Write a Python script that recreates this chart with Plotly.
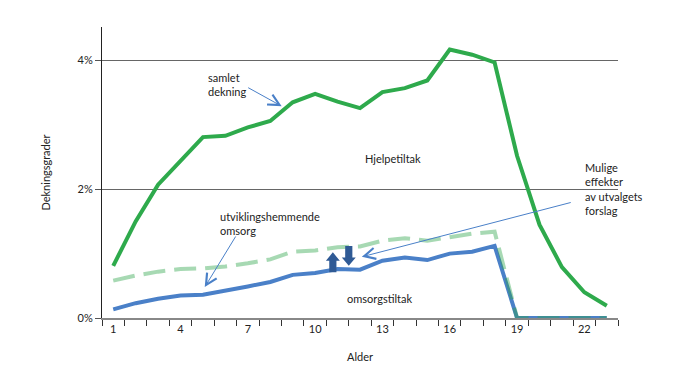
import plotly.graph_objects as go

ages = list(range(1, 24))
samlet_dekning = [0.81, 1.50, 2.07, 2.43, 2.81, 2.83, 2.96, 3.06, 3.35, 3.48, 3.36, 3.26,
                  3.51, 3.57, 3.69, 4.17, 4.09, 3.97, 2.52, 1.45, 0.79, 0.40, 0.19]
utviklingshemmende = [0.58, 0.66, 0.72, 0.76, 0.77, 0.80, 0.85, 0.91, 1.03, 1.05, 1.10, 1.11,
                      1.20, 1.24, 1.20, 1.26, 1.31, 1.34, 0, 0, 0, 0, 0]
omsorgstiltak = [0.135, 0.23, 0.30, 0.35, 0.36, 0.42, 0.49, 0.56, 0.67, 0.70, 0.76, 0.75,
                 0.89, 0.94, 0.90, 1.00, 1.03, 1.12, 0, 0, 0, 0, 0]
x_tick_vals = [1, 4, 7, 10, 13, 16, 19, 22]
y_tick_vals = [0, 2, 4]
y_tick_text = ["0%", "2%", "4%"]

FONT = "Lato"
GREEN = "#2eaa4c"
BLUE = "#4a80c8"
DASH = "rgba(46,165,75,0.42)"
DARK = "#2f5a95"

fig = go.Figure()
fig.add_trace(go.Scatter(x=ages, y=omsorgstiltak, mode="lines",
                         line=dict(color=BLUE, width=4), hoverinfo="skip"))
fig.add_trace(go.Scatter(x=ages, y=utviklingshemmende, mode="lines",
                         line=dict(color=DASH, width=4, dash="22px,9px"), hoverinfo="skip"))
fig.add_trace(go.Scatter(x=ages, y=samlet_dekning, mode="lines",
                         line=dict(color=GREEN, width=4), hoverinfo="skip"))

txt = dict(size=11, color="#222", family=FONT)
ann = []
ann.append(dict(x=5.12, y=3.63, text="samlet<br>dekning", showarrow=False, xanchor="left", align="left", font=txt))
ann.append(dict(x=13.47, y=2.47, text="Hjelpetiltak", showarrow=False, font=txt))
ann.append(dict(x=5.66, y=1.47, text="utviklingshemmende<br>omsorg", showarrow=False, xanchor="left", align="left", font=txt))
ann.append(dict(x=12.89, y=0.31, text="omsorgstiltak", showarrow=False, font=txt))
ann.append(dict(x=21.95, y=2.0, text="Mulige<br>effekter<br>av utvalgets<br>forslag", showarrow=False,
                xanchor="left", align="left", font=txt))
# thin pointer arrows (tail -> tip)
for (tx, ty, hx, hy) in [(6.95, 3.59, 8.51, 3.29), (6.50, 1.29, 5.08, 0.48), (21.46, 1.80, 12.08, 0.95)]:
    ann.append(dict(x=hx, y=hy, ax=tx, ay=ty, axref="x", ayref="y", xref="x", yref="y", text="",
                    showarrow=True, arrowhead=5, arrowsize=2.2, arrowwidth=1, arrowcolor=BLUE))

shapes = []
def block_arrow(xc, y0, y1):
    sw, hw = 0.16, 0.31
    hh = 0.13 if y1 > y0 else -0.13
    yb = y1 - hh
    p = (f"M {xc-sw},{y0} L {xc-sw},{yb} L {xc-hw},{yb} L {xc},{y1} L {xc+hw},{yb} "
         f"L {xc+sw},{yb} L {xc+sw},{y0} Z")
    return dict(type="path", path=p, xref="x", yref="y", fillcolor=DARK, line=dict(width=0))
shapes.append(block_arrow(10.79, 0.71, 1.02))
shapes.append(block_arrow(11.50, 1.12, 0.81))

fig.update_layout(
    width=700, height=373,
    margin=dict(l=94, r=90, t=19, b=63),
    plot_bgcolor="white", paper_bgcolor="white",
    showlegend=False,
    font=dict(family=FONT, size=11, color="#222"),
    annotations=ann, shapes=shapes,
    xaxis=dict(range=[0.5, 23.5], tickvals=x_tick_vals, ticks="", showgrid=False,
               showline=True, linecolor="#888", linewidth=1.5, zeroline=False,
               minor=dict(tick0=0.5, dtick=1, ticks="outside", ticklen=6, tickcolor="#333", showgrid=False),
               title=dict(text="Alder", standoff=19, font=dict(size=11)), tickfont=dict(size=11)),
    yaxis=dict(range=[0, 4.52], tickvals=y_tick_vals, ticktext=y_tick_text, ticks="outside",
               ticklen=6, tickcolor="#555", showgrid=True, gridcolor="#666", gridwidth=1,
               showline=True, linecolor="#222", linewidth=1, zeroline=False,
               title=dict(text="Dekningsgrader", standoff=24, font=dict(size=11)), tickfont=dict(size=11)),
)
fig.write_html("out.html")
